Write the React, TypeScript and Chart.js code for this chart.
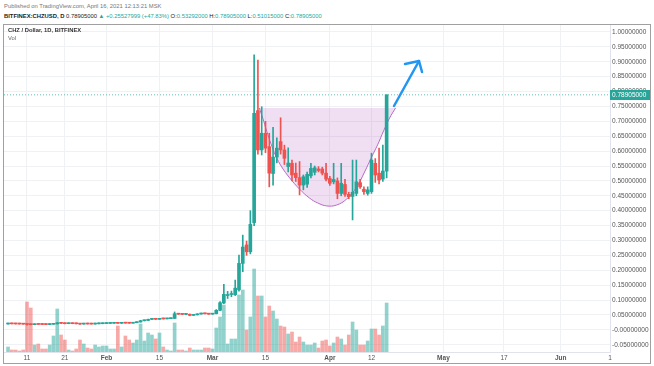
import React, { useEffect, useRef } from "react";
import { Chart, registerables } from "chart.js";
Chart.register(...registerables);

// ---- data (daily candles, CHZ/USD, Bitfinex) ----
const refDate = "2021-01-11";
const startDate = "2021-01-06";

const opens = [
  0.0195, 0.0205, 0.0200, 0.0197, 0.0194, 0.0190, 0.0180, 0.0172, 0.0186, 0.0181,
  0.0179, 0.0176, 0.0185, 0.0200, 0.0232, 0.0218, 0.0206, 0.0209, 0.0206, 0.0202,
  0.0192, 0.0198, 0.0195, 0.0193, 0.0201, 0.0205, 0.0210, 0.0215, 0.0219, 0.0224,
  0.0218, 0.0229, 0.0224, 0.0221, 0.0240, 0.0262, 0.0305, 0.0316, 0.0350, 0.0368,
  0.0352, 0.0372, 0.0366, 0.0374, 0.0382, 0.0540, 0.0525, 0.0518, 0.0524, 0.0485,
  0.0502, 0.0530, 0.0548, 0.0538, 0.0526, 0.0540, 0.0655, 0.0900, 0.1150, 0.1185,
  0.1180, 0.1340, 0.2230, 0.2850, 0.2620, 0.3600, 0.7360, 0.6040, 0.6600, 0.6150,
  0.5250, 0.5800, 0.6320, 0.6040, 0.5480, 0.5590, 0.5260, 0.5110, 0.4860, 0.4890,
  0.5170, 0.5290, 0.5400, 0.5400, 0.5260, 0.5080, 0.4970, 0.5000, 0.4580, 0.4880,
  0.4550, 0.4480, 0.4580, 0.4940, 0.4720, 0.4580, 0.4640, 0.5590, 0.5260, 0.5060,
  0.53292,
];
const highs = [
  0.0212, 0.0210, 0.0208, 0.0203, 0.0200, 0.0215, 0.0188, 0.0190, 0.0192, 0.0187,
  0.0184, 0.0188, 0.0205, 0.0245, 0.0238, 0.0224, 0.0212, 0.0212, 0.0210, 0.0206,
  0.0200, 0.0201, 0.0198, 0.0203, 0.0207, 0.0213, 0.0218, 0.0221, 0.0226, 0.0250,
  0.0232, 0.0236, 0.0230, 0.0245, 0.0268, 0.0320, 0.0322, 0.0362, 0.0378, 0.0374,
  0.0385, 0.0376, 0.0378, 0.0388, 0.0600, 0.0552, 0.0535, 0.0530, 0.0530, 0.0510,
  0.0540, 0.0560, 0.0565, 0.0545, 0.0545, 0.0680, 0.0950, 0.1530, 0.1290, 0.1300,
  0.1670, 0.2510, 0.3180, 0.2980, 0.4000, 0.9230, 0.9060, 0.7490, 0.7000, 0.6600,
  0.6800, 0.6450, 0.7120, 0.6200, 0.6110, 0.5700, 0.5600, 0.5650, 0.5200, 0.5300,
  0.5590, 0.5500, 0.5480, 0.5460, 0.5590, 0.5150, 0.5590, 0.5100, 0.5590, 0.5050,
  0.4620, 0.5700, 0.5700, 0.5050, 0.4800, 0.4800, 0.5930, 0.5750, 0.6100, 0.6200,
  0.78905,
];
const lows = [
  0.0190, 0.0195, 0.0192, 0.0190, 0.0185, 0.0160, 0.0165, 0.0170, 0.0178, 0.0176,
  0.0172, 0.0174, 0.0182, 0.0195, 0.0210, 0.0200, 0.0202, 0.0203, 0.0198, 0.0185,
  0.0189, 0.0192, 0.0190, 0.0191, 0.0199, 0.0203, 0.0207, 0.0212, 0.0216, 0.0212,
  0.0216, 0.0220, 0.0218, 0.0219, 0.0236, 0.0258, 0.0296, 0.0310, 0.0340, 0.0345,
  0.0348, 0.0360, 0.0362, 0.0370, 0.0378, 0.0515, 0.0510, 0.0512, 0.0470, 0.0480,
  0.0498, 0.0522, 0.0530, 0.0518, 0.0520, 0.0535, 0.0640, 0.0880, 0.1050, 0.1110,
  0.1150, 0.1300, 0.1950, 0.2500, 0.2550, 0.3500, 0.5900, 0.5870, 0.5950, 0.4800,
  0.4860, 0.5600, 0.5900, 0.5550, 0.5300, 0.5000, 0.4980, 0.4530, 0.4700, 0.4780,
  0.5100, 0.5200, 0.5300, 0.5200, 0.5000, 0.4850, 0.4900, 0.4400, 0.4500, 0.4480,
  0.4400, 0.3690, 0.4500, 0.4750, 0.4550, 0.4520, 0.4580, 0.4950, 0.4900, 0.4980,
  0.51015,
];
const closes = [
  0.0205, 0.0200, 0.0197, 0.0194, 0.0190, 0.0180, 0.0172, 0.0186, 0.0181, 0.0179,
  0.0176, 0.0185, 0.0200, 0.0232, 0.0218, 0.0206, 0.0209, 0.0206, 0.0202, 0.0192,
  0.0198, 0.0195, 0.0193, 0.0201, 0.0205, 0.0210, 0.0215, 0.0219, 0.0224, 0.0218,
  0.0229, 0.0224, 0.0221, 0.0240, 0.0262, 0.0305, 0.0316, 0.0350, 0.0368, 0.0352,
  0.0372, 0.0366, 0.0374, 0.0382, 0.0540, 0.0525, 0.0518, 0.0524, 0.0485, 0.0502,
  0.0530, 0.0548, 0.0538, 0.0526, 0.0540, 0.0655, 0.0910, 0.1190, 0.1185, 0.1205,
  0.1400, 0.2230, 0.2780, 0.2620, 0.3540, 0.7270, 0.6040, 0.6600, 0.6100, 0.5260,
  0.5800, 0.6100, 0.6040, 0.5760, 0.5600, 0.5200, 0.5110, 0.4860, 0.5140, 0.5220,
  0.5420, 0.5440, 0.5350, 0.5260, 0.5060, 0.4920, 0.5050, 0.4580, 0.4920, 0.4550,
  0.4470, 0.4620, 0.4970, 0.4800, 0.4640, 0.4700, 0.5700, 0.5200, 0.5030, 0.5330,
  0.78905,
];
const volumes = [
  50, 20, 20, 10, 20, 500, 440, 70, 80, 30,
  30, 70, 160, 430, 170, 120, 20, 10, 30, 120,
  80, 40, 30, 70, 50, 60, 60, 30, 30, 260,
  50, 160, 120, 90, 120, 280, 110, 190, 170, 130,
  190, 50, 20, 10, 290, 20, 20, 10, 40, 20,
  20, 20, 40, 40, 30, 240, 350, 470, 80, 130,
  130, 570, 620, 220, 350, 830, 560, 560, 350, 460,
  410, 330, 260, 250, 180, 200, 100, 150, 100, 70,
  70, 90, 40, 110, 120, 60, 90, 150, 130, 70,
  170, 300, 220, 70, 70, 110, 230, 230, 170, 260,
  490,
];

const tickDates = [
  "2021-01-11", "2021-01-21", "2021-02-01", "2021-02-15", "2021-03-01", "2021-03-15",
  "2021-04-01", "2021-04-12", "2021-05-01", "2021-05-17", "2021-06-01", "2021-06-14",
];
const tickLabels = ["11", "21", "Feb", "15", "Mar", "15", "Apr", "12", "May", "17", "Jun", "1"];
const monthLabels = ["Feb", "Mar", "Apr", "May", "Jun"];

const yTicks = [
  1.0, 0.95, 0.9, 0.85, 0.8, 0.75, 0.7, 0.65, 0.6, 0.55, 0.5, 0.45, 0.4, 0.35, 0.3,
  0.25, 0.2, 0.15, 0.1, 0.05, 0, -0.05,
];

// cup drawing (day offset from refDate, price)
const cupX = [61.35, 62.27, 63.32, 64.38, 65.7, 67.28, 69.39, 72.03, 74.67, 76.78, 79.16,
  81.79, 84.43, 87.07, 89.18, 91.03, 92.61, 94.2, 95.78, 97.36];
const cupY = [0.745, 0.711, 0.667, 0.627, 0.584, 0.547, 0.51, 0.472, 0.442, 0.426, 0.416,
  0.419, 0.439, 0.479, 0.53, 0.58, 0.621, 0.668, 0.711, 0.745];
const cupTop = 0.745;

// arrow drawing
const arrowShaftX = [96.95, 103.55];
const arrowShaftY = [0.7515, 0.9026];
const arrowHeadX = [99.85, 103.55, 104.35];
const arrowHeadY = [0.8926, 0.9026, 0.8657];

const xMin = -6.07;
const xMax = 154;
const yMin = -0.0745;
const yMax = 1.0235;
const volMax = 3270;

const UP = "#26a69a";
const DOWN = "#ef5350";
const UP_V = "rgba(38,166,154,0.5)";
const DOWN_V = "rgba(239,83,80,0.5)";
const FONT = '"Liberation Sans", Arial, sans-serif';

const dayNum = (s: string) => (Date.parse(s) - Date.parse(refDate)) / 86400000;

export default function App() {
  const ref = useRef<HTMLCanvasElement | null>(null);

  useEffect(() => {
    if (!ref.current) return;
    const x0 = dayNum(startDate);
    const xs = closes.map((_, i) => x0 + i);
    const up = closes.map((c, i) => c >= opens[i]);
    const tickVals = tickDates.map(dayNum);
    const lastClose = closes[closes.length - 1];

    const lastPricePlugin = {
      id: "lastPrice",
      afterDraw(chart: any) {
        const { ctx, chartArea, scales } = chart;
        const y = scales.y.getPixelForValue(lastClose);
        ctx.save();
        ctx.fillStyle = UP;
        ctx.fillRect(chartArea.right, Math.round(y) - 5, 40, 10);
        ctx.fillStyle = "#ffffff";
        ctx.font = `6.5px ${FONT}`;
        ctx.textBaseline = "middle";
        ctx.textAlign = "left";
        ctx.fillText(lastClose.toFixed(8), chartArea.right + 2, Math.round(y) + 0.5);
        ctx.restore();
      },
    };

    const chart = new Chart(ref.current, {
      type: "bar",
      data: {
        datasets: [
          {
            type: "line",
            data: [
              { x: xMin, y: lastClose },
              { x: xMax, y: lastClose },
            ],
            borderColor: "rgba(38,166,154,0.7)",
            borderWidth: 1,
            borderDash: [1, 2],
            pointRadius: 0,
            order: 3,
          } as any,
          {
            type: "line",
            data: arrowShaftX.map((x, i) => ({ x, y: arrowShaftY[i] })),
            borderColor: "#2196f3",
            borderWidth: 2.5,
            borderCapStyle: "round",
            pointRadius: 0,
            order: 0,
          } as any,
          {
            type: "line",
            data: arrowHeadX.map((x, i) => ({ x, y: arrowHeadY[i] })),
            borderColor: "#2196f3",
            borderWidth: 2.5,
            borderCapStyle: "round",
            borderJoinStyle: "round",
            pointRadius: 0,
            order: 0,
          } as any,
          {
            type: "bar",
            data: xs.map((x, i) => ({ x, y: [opens[i], closes[i]] })),
            backgroundColor: up.map((u) => (u ? UP : DOWN)),
            barThickness: 3,
            minBarLength: 1,
            grouped: false,
            order: 1,
          } as any,
          {
            type: "bar",
            data: xs.map((x, i) => ({ x, y: [lows[i], highs[i]] })),
            backgroundColor: up.map((u) => (u ? UP : DOWN)),
            barThickness: 1,
            minBarLength: 1,
            grouped: false,
            order: 2,
          } as any,
          {
            type: "line",
            data: cupX.map((x, i) => ({ x, y: cupY[i] })),
            borderColor: "#ba68c8",
            borderWidth: 1,
            backgroundColor: "rgba(186,104,200,0.22)",
            fill: { value: cupTop },
            tension: 0.4,
            pointRadius: 0,
            order: 4,
          } as any,
          {
            type: "bar",
            yAxisID: "yv",
            data: xs.map((x, i) => ({ x, y: volumes[i] })),
            backgroundColor: up.map((u) => (u ? UP_V : DOWN_V)),
            barThickness: 3,
            grouped: false,
            order: 5,
          } as any,
        ],
      },
      options: {
        animation: false,
        responsive: false,
        maintainAspectRatio: false,
        layout: { padding: { left: 4, top: 25, right: 0, bottom: 1 } },
        plugins: { legend: { display: false }, tooltip: { enabled: false } },
        events: [],
        scales: {
          x: {
            type: "linear",
            offset: false,
            min: xMin,
            max: xMax,
            afterBuildTicks: (scale: any) => {
              scale.ticks = tickVals.map((v) => ({ value: v }));
            },
            afterFit: (scale: any) => {
              scale.height = 13;
            },
            ticks: {
              autoSkip: false,
              maxRotation: 0,
              padding: 2,
              color: "#555",
              callback: (_v: any, i: number) => tickLabels[i],
              font: (ctx: any) => ({
                size: 6.5,
                family: FONT,
                weight: monthLabels.includes(tickLabels[ctx.index]) ? "bold" : "normal",
              }),
            },
            grid: { color: "#eff1f4", drawTicks: false, lineWidth: 1, offset: false },
            border: { display: true, color: "#e0e3eb" },
          },
          y: {
            type: "linear",
            position: "right",
            min: yMin,
            max: yMax,
            afterBuildTicks: (scale: any) => {
              scale.ticks = yTicks.map((v) => ({ value: v }));
            },
            afterFit: (scale: any) => {
              scale.width = 44;
            },
            ticks: {
              padding: 2,
              color: "#555",
              font: { size: 6.5, family: FONT },
              callback: (_v: any, i: number) => {
                const v = yTicks[i];
                return v === 0 ? "-0.00000000" : v.toFixed(8);
              },
            },
            grid: { color: "#eff1f4", drawTicks: false, lineWidth: 1 },
            border: { display: true, color: "#e0e3eb" },
          },
          yv: {
            type: "linear",
            display: false,
            min: 0,
            max: volMax,
          },
        },
      } as any,
      plugins: [lastPricePlugin],
    });
    return () => chart.destroy();
  }, []);

  const small: React.CSSProperties = {
    position: "absolute",
    whiteSpace: "nowrap",
    fontFamily: FONT,
    lineHeight: "8px",
  };
  const g = { color: UP };

  return (
    <div style={{ position: "absolute", left: 0, top: 0, width: 654, height: 366, background: "#fff", overflow: "hidden" }}>
      <div style={{ ...small, left: 4, top: 2, fontSize: 5.85, color: "#777" }}>
        Published on TradingView.com, April 16, 2021 12:13:21 MSK
      </div>
      <div style={{ ...small, left: 4, top: 12, fontSize: 5.85, color: "#222" }}>
        <b>BITFINEX:CHZUSD, D</b> 0.78905000 <span style={g}>▲ +0.25527999 (+47.83%)</span>{" "}
        O:<span style={g}>0.53292000</span> H:<span style={g}>0.78905000</span> L:
        <span style={g}>0.51015000</span> C:<span style={g}>0.78905000</span>
      </div>
      <canvas ref={ref} width={654} height={366} style={{ position: "absolute", left: 0, top: 0, width: 654, height: 366 }} />
      <div
        style={{
          position: "absolute",
          left: 3,
          top: 24,
          width: 648,
          height: 340,
          border: "1px solid #a0a0a0",
          boxSizing: "border-box",
          pointerEvents: "none",
        }}
      />
      <div style={{ ...small, left: 8, top: 26, fontSize: 5.8, color: "#333", fontWeight: "bold" }}>
        CHZ / Dollar, 1D, BITFINEX
      </div>
      <div style={{ ...small, left: 8, top: 34, fontSize: 5.8, color: "#666" }}>Vol</div>
    </div>
  );
}
